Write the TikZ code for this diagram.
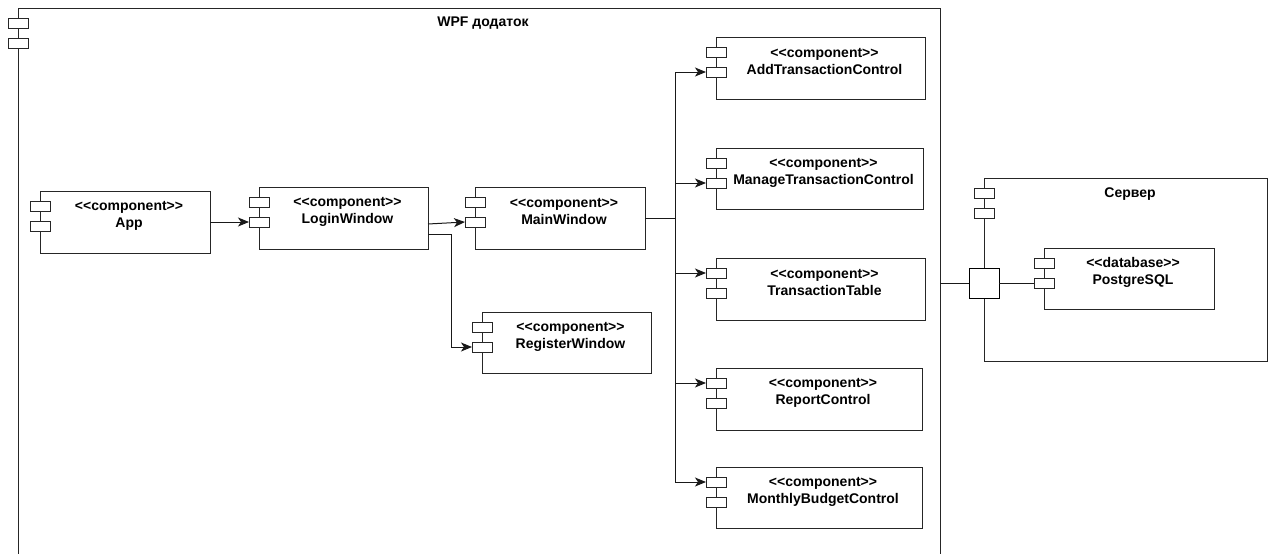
\documentclass[tikz,border=0pt]{standalone}
\usepackage{fontspec}
\newfontfamily\lblfont{Liberation Sans}
\usetikzlibrary{arrows.meta,calc}

\tikzset{
  frame/.style={draw=black!85, line width=1pt, fill=white, inner sep=0pt, outer sep=0pt, anchor=north west},
  jetty/.style={draw=black!85, line width=1pt, fill=white, minimum width=20pt, minimum height=10pt, inner sep=0pt, outer sep=0pt},
  ctext/.style={font=\lblfont\bfseries\fontsize{14}{17}\selectfont, align=center, inner sep=0pt},
  link/.style={draw=black!90, line width=1pt},
  arr/.style={link, -{Stealth[length=11pt,width=9pt,inset=3pt]}},
  portbox/.style={draw=black, line width=1pt, fill=white, minimum size=30pt, inner sep=0pt, outer sep=0pt}
}

% UML component: name, x, y, width, height, stereotype, title
\newcommand\umlcomp[7]{%
  \node[frame, minimum width=#4pt, minimum height=#5pt] (#1) at (#2,#3) {};
  \node[jetty] (#1-a) at ($(#1.north west)+(0,15)$) {};
  \node[jetty] (#1-b) at ($(#1.north west)+(0,35)$) {};
  \node[ctext] (#1-t) at ($(#1.north)+(4,24.5)$) {\textless\textless #6\textgreater\textgreater\\#7};
}

\begin{document}
\begin{tikzpicture}[x=1pt,y=-1pt]
  \useasboundingbox (0,0) rectangle (1272,554);
  \clip (0,0) rectangle (1272,554);

  % WPF application container
  \node[frame, minimum width=922pt, minimum height=600pt] (wpf) at (18,8) {};
  \node[jetty] (wpf-a) at ($(wpf.north west)+(0,15)$) {};
  \node[jetty] (wpf-b) at ($(wpf.north west)+(0,35)$) {};
  \node[ctext] (wpf-t) at ($(wpf.north west)+(465,15)$) {WPF додаток};

  % components
  \umlcomp{app}{40}{191}{170}{62}{component}{App}
  \umlcomp{login}{259}{187}{169}{62}{component}{LoginWindow}
  \umlcomp{main}{475}{187}{170}{62}{component}{MainWindow}
  \umlcomp{register}{482}{312}{169}{61}{component}{RegisterWindow}
  \umlcomp{add}{716}{37}{209}{62}{component}{AddTransactionControl}
  \umlcomp{manage}{716}{148}{207}{61}{component}{ManageTransactionControl}
  \umlcomp{ttable}{716}{258}{209}{62}{component}{TransactionTable}
  \umlcomp{report}{716}{368}{206}{62}{component}{ReportControl}
  \umlcomp{monthly}{716}{467}{206}{61}{component}{MonthlyBudgetControl}

  % server container
  \node[frame, minimum width=283pt, minimum height=183pt] (srv) at (984,178) {};
  \node[jetty] (srv-a) at ($(srv.north west)+(0,15)$) {};
  \node[jetty] (srv-b) at ($(srv.north west)+(0,35)$) {};
  \node[ctext] (srv-t) at ($(srv.north west)+(146,16)$) {Сервер};
  \umlcomp{pg}{1044}{248}{170}{61}{database}{PostgreSQL}
  \node[portbox] (port) at (srv.west |- pg-b) {};

  % dependencies
  \draw[arr] (app.east |- login-b) -- (login-b.west);
  \draw[arr] ([yshift=-6pt]login.east) -- (main-b.west);
  \draw[arr] ([yshift=-16pt]login.east) -- ++(23,0) |- (register-b.west);

  \coordinate (trunk) at ($(main.east)+(30,0)$);
  \draw[arr] (main.east) -- (trunk) |- (add-b.west);
  \draw[arr] (main.east) -- (trunk) |- (manage-b.west);
  \draw[arr] (main.east) -- (trunk) |- (ttable-a.west);
  \draw[arr] (main.east) -- (trunk) |- (report-a.west);
  \draw[arr] (main.east) -- (trunk) |- (monthly-a.west);

  % server connection through the port
  \draw[link] (wpf.east |- port) -- (port.west);
  \draw[link] (port.east) -- (pg-b.west);
\end{tikzpicture}
\end{document}
